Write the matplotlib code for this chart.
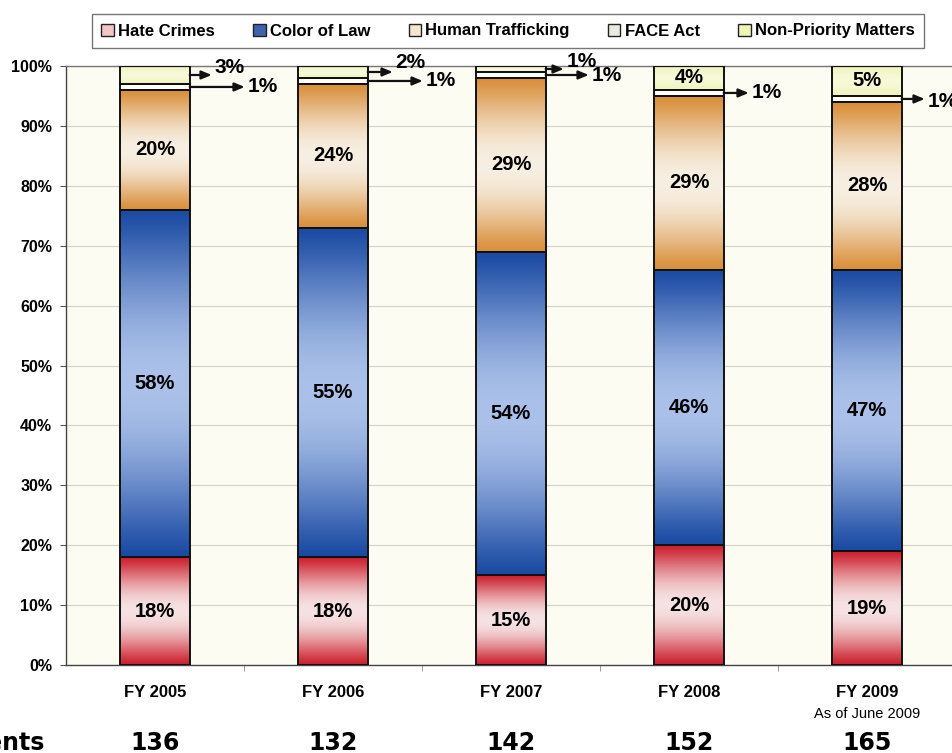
import numpy as np
import matplotlib
matplotlib.use('Agg')
import matplotlib.pyplot as plt
from matplotlib.patches import Rectangle
from matplotlib.ticker import FixedLocator, FuncFormatter

years = ['FY 2005', 'FY 2006', 'FY 2007', 'FY 2008', 'FY 2009']
year_notes = ['', '', '', '', 'As of June 2009']
agents = [136, 132, 142, 152, 165]
hate_crimes = [18, 18, 15, 20, 19]
color_of_law = [58, 55, 54, 46, 47]
human_trafficking = [20, 24, 29, 29, 28]
face_act = [1, 1, 1, 1, 1]
non_priority = [3, 2, 1, 4, 5]
series_names = ['Hate Crimes', 'Color of Law', 'Human Trafficking', 'FACE Act', 'Non-Priority Matters']
yticks = [0, 10, 20, 30, 40, 50, 60, 70, 80, 90, 100]

series = [hate_crimes, color_of_law, human_trafficking, face_act, non_priority]
edge_cols = ['#cc1f2d', '#1a4aa3', '#d98f3a', '#ffffff', '#eef4b8']
mid_cols = ['#f6e2e2', '#abc1e9', '#f7efe2', '#ffffff', '#f7f9d8']

SANS = 'Liberation Sans'

W, H = 953, 753
fig = plt.figure(figsize=(W / 100, H / 100), dpi=100)
fig.patch.set_facecolor('white')
ax = fig.add_axes([66 / W, 1 - 665 / H, 890 / W, 599 / H])
ax.set_facecolor('#fcfcf3')

x = np.arange(len(years))
bw = 0.39
px_per_x = 890 / 5.0

def hex2rgb(h):
    h = h.lstrip('#')
    return np.array([int(h[i:i + 2], 16) / 255 for i in (0, 2, 4)])

bottom = np.zeros(len(years))
for vals, ec, mc in zip(series, edge_cols, mid_cols):
    bars = ax.bar(x, vals, bw, bottom=bottom, facecolor='none',
                  edgecolor='#111111', linewidth=1.4, zorder=3)
    t = np.linspace(0, 1, 200)
    s = np.sin(np.pi * t) ** 1.2
    grad = hex2rgb(ec)[None, :] * (1 - s[:, None]) + hex2rgb(mc)[None, :] * s[:, None]
    grad = grad[:, None, :]
    for b in bars:
        x0, y0 = b.get_x(), b.get_y()
        w, h = b.get_width(), b.get_height()
        im = ax.imshow(grad, extent=(x0, x0 + w, y0, y0 + h), aspect='auto',
                       origin='lower', zorder=2, interpolation='bilinear')
        clip = Rectangle((x0, y0), w, h, transform=ax.transData)
        im.set_clip_path(clip)
    bottom = bottom + np.array(vals)

ax.set_xlim(-0.5, 4.5)
ax.set_ylim(0, 100)

# labels inside big segments
lab_font = dict(fontsize=14.5, fontweight='bold', family=SANS, ha='center', va='center', zorder=5)
cum = np.zeros(len(years))
for si, vals in enumerate(series):
    for i, v in enumerate(vals):
        c = cum[i] + v / 2
        if si in (0, 1, 2):
            ax.text(x[i], c, f'{v}%', **lab_font)
        elif si == 4 and v >= 4:
            ax.text(x[i], c, f'{v}%', **lab_font)
    cum = cum + np.array(vals)

# arrow labels for small segments: (bar, series index, arrow length px, text dy px)
arrow_specs = [
    (0, 4, 22, 7), (0, 3, 55, 0),
    (1, 4, 25, 9), (1, 3, 55, 0),
    (2, 4, 18, 7), (2, 3, 43, -1),
    (3, 3, 25, 0),
    (4, 3, 23, -3),
]
cum_before = np.cumsum([np.zeros(len(years))] + [np.array(s) for s in series], axis=0)
for i, si, L, dy in arrow_specs:
    yv = cum_before[si][i] + series[si][i] / 2
    xs = x[i] + bw / 2
    xe = xs + L / px_per_x
    ax.annotate('', xy=(xe, yv), xytext=(xs, yv),
                arrowprops=dict(arrowstyle='-|>,head_length=0.6,head_width=0.25',
                                color='#111111', lw=1.6, shrinkA=0, shrinkB=0),
                annotation_clip=False, zorder=6)
    ax.annotate(f'{series[si][i]}%', xy=(xe, yv), xytext=(2, dy * 0.72),
                textcoords='offset points', fontsize=15, fontweight='bold',
                family=SANS, ha='left', va='center', annotation_clip=False, zorder=6)

# axes styling
ax.yaxis.set_major_locator(FixedLocator(yticks))
ax.yaxis.set_major_formatter(FuncFormatter(lambda v, p: f'{int(v)}%'))
ax.grid(axis='y', color='#d2d2cb', linewidth=0.8, zorder=0)
ax.set_axisbelow(True)
ax.tick_params(axis='y', direction='out', length=4, width=0.8, color='#555555', pad=6)
for lbl in ax.get_yticklabels():
    lbl.set_fontfamily(SANS)
    lbl.set_fontweight('bold')
    lbl.set_fontsize(11.5)

ax.set_xticks(x)
ax.set_xticklabels([])
ax.tick_params(axis='x', which='major', length=0)
ax.set_xticks(np.arange(0.5, 4.5, 1.0), minor=True)
ax.tick_params(axis='x', which='minor', direction='out', length=4, color='#888888')

for i, lab in enumerate(years):
    ax.annotate(lab, xy=(x[i], 0), xycoords=('data', 'axes fraction'), xytext=(0, -20),
                textcoords='offset points', ha='center', va='center', fontsize=12,
                fontweight='bold', family=SANS, annotation_clip=False)
    if year_notes[i]:
        ax.annotate(year_notes[i], xy=(x[i], 0), xycoords=('data', 'axes fraction'),
                    xytext=(0, -35), textcoords='offset points', ha='center', va='center',
                    fontsize=10.5, family=SANS, annotation_clip=False)
    ax.annotate(str(agents[i]), xy=(x[i], 0), xycoords=('data', 'axes fraction'),
                xytext=(0, -56), textcoords='offset points', ha='center', va='center',
                fontsize=17, fontweight='bold', family='DejaVu Sans',
                annotation_clip=False)
fig.text(45 / W, 1 - 743 / H, 'Agents', ha='right', va='center', fontsize=17,
         fontweight='bold', family='DejaVu Sans')

for side in ['left', 'bottom']:
    ax.spines[side].set_color('#444444')
    ax.spines[side].set_linewidth(1.0)
ax.spines['top'].set_color('#777777')
ax.spines['top'].set_linewidth(1.0)
ax.spines['right'].set_visible(False)

# legend
legend_face = ['#f3c6c6', '#3e62b0', '#f4e6d2', '#e8ece0', '#eef4b8']
handles = [Rectangle((0, 0), 1, 1, facecolor=legend_face[k], edgecolor='#222222',
                     linewidth=1.0) for k in range(5)]
leg = fig.legend(handles, series_names, loc='center', bbox_to_anchor=(508 / W, 1 - 31 / H),
                 ncol=5, frameon=True, fancybox=False, edgecolor='#555555',
                 handlelength=0.75, handleheight=0.75, handletextpad=0.25, columnspacing=2.3,
                 borderpad=0.55,
                 prop=dict(family=SANS, weight='bold', size=12))
leg.get_frame().set_linewidth(1.0)

fig.savefig('out.png', dpi=100)
